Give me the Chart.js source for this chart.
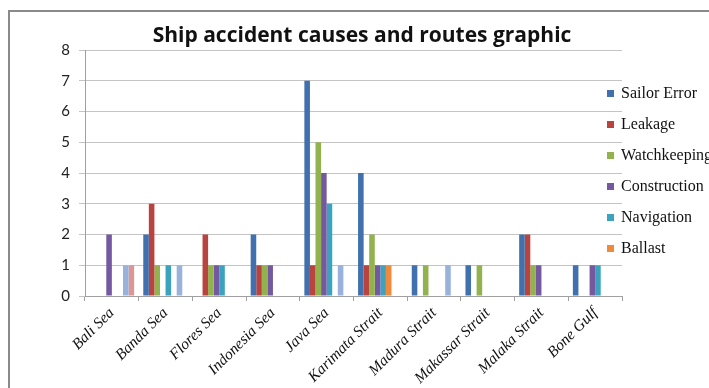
<!DOCTYPE html>
<html>
<head>
<meta charset="utf-8">
<script src="https://cdn.jsdelivr.net/npm/chart.js@4/dist/chart.umd.min.js"></script>
<style>
  html, body { margin: 0; padding: 0; background: #fff; }
  #box { width: 709px; height: 388px; }
</style>
</head>
<body>
<div id="box"><canvas id="myChart" width="709" height="388"></canvas></div>
<script>
// routes (x axis)
const routes = ['Bali Sea', 'Banda Sea', 'Flores Sea', 'Indonesia Sea', 'Java Sea',
    'Karimata Strait', 'Madura Strait', 'Makassar Strait', 'Malaka Strait', 'Bone Gulf'];

// causes, one array per series
const sailorError = [0, 2, 0, 2, 7, 4, 1, 1, 2, 1];
const leakage = [0, 3, 2, 1, 1, 1, 0, 0, 2, 0];
const watchkeeping = [0, 1, 1, 1, 5, 2, 1, 1, 1, 0];
const construction = [2, 0, 1, 1, 4, 1, 0, 0, 1, 1];
const navigation = [0, 1, 1, 0, 3, 1, 0, 0, 0, 1];
const ballast = [0, 0, 0, 0, 0, 1, 0, 0, 0, 0];
// two more series whose legend entries are cut off in the original
const weather = [1, 1, 0, 0, 1, 0, 1, 0, 0, 0];
const others = [1, 0, 0, 0, 0, 0, 0, 0, 0, 0];

const yTicks = [0, 1, 2, 3, 4, 5, 6, 7, 8];
const chartTitle = 'Ship accident causes and routes graphic';
const legendShown = 6;

const seriesNames = ['Sailor Error', 'Leakage', 'Watchkeeping', 'Construction', 'Navigation', 'Ballast', 'Weather', 'Others'];
const seriesData = [sailorError, leakage, watchkeeping, construction, navigation, ballast, weather, others];
const colors = ['#4170ae', '#b9433f', '#91b24c', '#7458a0', '#3ca3bf', '#ef8a3c', '#98b2dc', '#dc9696'];

const datasets = seriesNames.map((name, i) => ({
    label: name,
    data: seriesData[i],
    backgroundColor: colors[i],
    borderWidth: 0,
    categoryPercentage: 0.83,
    barPercentage: 1.0,
}));

// frame, title and legend drawn by hand so the legend can sit over the plot edge
const decorPlugin = {
    id: 'decor',
    afterDraw(chart) {
        const ctx = chart.ctx;
        ctx.save();
        ctx.strokeStyle = '#8a8a8a';
        ctx.lineWidth = 2;
        ctx.strokeRect(9, 11, 900, 600);

        ctx.fillStyle = '#111';
        ctx.font = 'bold 21px "Open Sans"';
        ctx.textAlign = 'center';
        ctx.textBaseline = 'middle';
        ctx.fillText(chartTitle, 362, 36);

        ctx.font = '16px "Liberation Serif"';
        ctx.textAlign = 'left';
        for (let i = 0; i < legendShown; i++) {
            const y = 94 + i * 31;
            ctx.fillStyle = colors[i];
            ctx.fillRect(607, y - 4, 7, 7);
            ctx.fillStyle = '#111';
            ctx.fillText(seriesNames[i], 621, y);
        }
        ctx.restore();
    }
};

const config = {
    type: 'bar',
    data: { labels: routes, datasets: datasets },
    plugins: [decorPlugin],
    options: {
        responsive: false,
        animation: false,
        layout: { padding: { left: 0, right: 87, top: 50, bottom: 0 } },
        plugins: {
            legend: { display: false },
            title: { display: false },
            tooltip: { enabled: false },
        },
        scales: {
            x: {
                grid: {
                    offset: true,
                    drawOnChartArea: false,
                    color: '#a0a0a0',
                    tickLength: 5,
                },
                border: { color: '#a0a0a0' },
                ticks: {
                    color: '#111',
                    font: { family: 'Liberation Serif', style: 'italic', size: 15.5 },
                    maxRotation: 45,
                    minRotation: 45,
                    padding: 3,
                    autoSkip: false,
                },
                afterFit(scale) { scale.height = 92; },
            },
            y: {
                min: 0,
                max: 8,
                afterBuildTicks(scale) { scale.ticks = yTicks.map(v => ({ value: v })); },
                grid: {
                    color: '#c4c4c4',
                    tickLength: 6,
                },
                border: { color: '#a0a0a0' },
                ticks: {
                    color: '#222',
                    font: { family: 'Lato', size: 15 },
                    padding: 9,
                },
                afterFit(scale) { scale.width = 85; },
            },
        },
    }
};

var ctx = document.getElementById('myChart').getContext('2d');
var myChart = new Chart(ctx, config);
</script>
</body>
</html>
